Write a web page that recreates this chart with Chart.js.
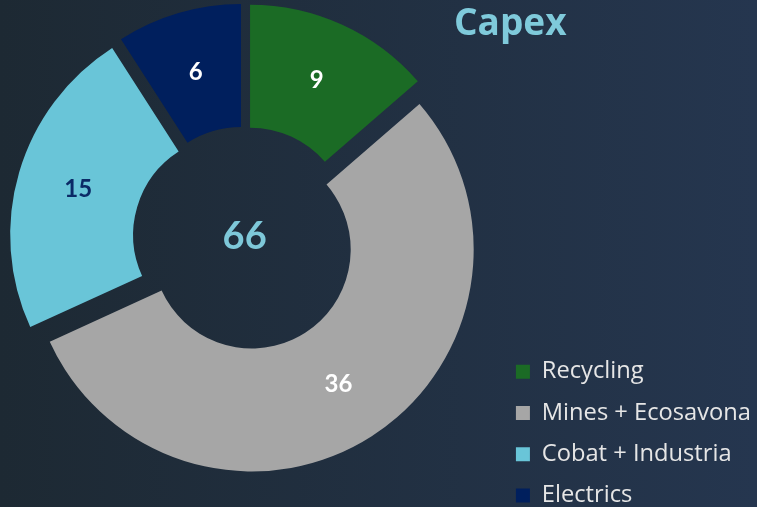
<!DOCTYPE html>
<html>
<head>
<meta charset="utf-8">
<script src="https://cdn.jsdelivr.net/npm/chart.js@4/dist/chart.umd.min.js"></script>
<style>
    html, body { margin: 0; padding: 0; }
    body {
        position: relative;
        width: 757px;
        height: 507px;
        overflow: hidden;
        background: linear-gradient(to right, #1d2933 0%, #25364f 100%);
    }
    /* el lienzo es un poco más grande que la página para centrar la dona donde toca */
    #graficaCapex { position: absolute; left: -9px; top: -48px; }
</style>
</head>
<body>
<canvas id="graficaCapex" width="770" height="573"></canvas>
<script>
const categorias = ['Recycling', 'Mines + Ecosavona', 'Cobat + Industria', 'Electrics']; // Nombres de las porciones
const valores = [9, 36, 15, 6]; // Capex por área
const colores = ['#1b6b25', '#a6a6a6', '#69c5d8', '#001f5d'];
const coloresEtiqueta = ['#ffffff', '#ffffff', '#0b2a66', '#ffffff'];
const titulo = 'Capex';
const total = 66; // Número del centro

const separacion = 13; // Cuánto se separa cada porción del centro
const desplazX = 9, desplazY = 48; // Igual que left/top del CSS

// Separa cada porción a lo largo de su bisectriz (sin agrandar el radio)
const explotar = {
    id: 'explotar',
    afterDatasetUpdate(chart) {
        chart.getDatasetMeta(0).data.forEach(arc => {
            if (arc._explotado) return;
            arc._explotado = true;
            const dibujar = arc.draw;
            arc.draw = function (ctx) {
                const mitad = (this.startAngle + this.endAngle) / 2;
                ctx.save();
                ctx.translate(Math.cos(mitad) * separacion, Math.sin(mitad) * separacion);
                dibujar.call(this, ctx);
                ctx.restore();
            };
        });
    }
};

// Números en las porciones, total en el centro y título
const etiquetas = {
    id: 'etiquetas',
    afterDraw(chart) {
        const ctx = chart.ctx;
        const meta = chart.getDatasetMeta(0);
        ctx.save();
        ctx.textAlign = 'center';
        ctx.textBaseline = 'middle';
        ctx.font = 'bold 24px Lato';
        meta.data.forEach((arc, i) => {
            const mitad = (arc.startAngle + arc.endAngle) / 2;
            const pos = arc.tooltipPosition();
            ctx.fillStyle = coloresEtiqueta[i];
            ctx.fillText(valores[i], pos.x + Math.cos(mitad) * separacion, pos.y + Math.sin(mitad) * separacion);
        });
        const centro = meta.data[0];
        ctx.font = 'bold 38px Lato';
        ctx.fillStyle = '#7ec8d9';
        ctx.fillText(total, centro.x, centro.y - 2);
        ctx.textAlign = 'left';
        ctx.textBaseline = 'alphabetic';
        ctx.font = 'bold 37px "Open Sans"';
        ctx.fillStyle = '#7fcadb';
        ctx.fillText(titulo, 454 + desplazX, 35 + desplazY);
        ctx.restore();
    }
};

Chart.defaults.font.family = 'Lato';

new Chart(document.getElementById('graficaCapex'), {
    type: 'doughnut',
    data: {
        labels: categorias,
        datasets: [{
            data: valores,
            backgroundColor: colores,
            borderWidth: 0
        }]
    },
    options: {
        responsive: false,
        animation: false,
        events: [],
        radius: 222,
        cutout: '44.6%',
        plugins: {
            tooltip: { enabled: false },
            legend: {
                position: 'right',
                align: 'end',
                labels: {
                    color: '#e6e6e6',
                    font: { size: 23.7, family: '"Open Sans"' },
                    boxWidth: 14,
                    boxHeight: 14,
                    padding: 17.6
                }
            }
        }
    },
    plugins: [explotar, etiquetas]
});
</script>
</body>
</html>
